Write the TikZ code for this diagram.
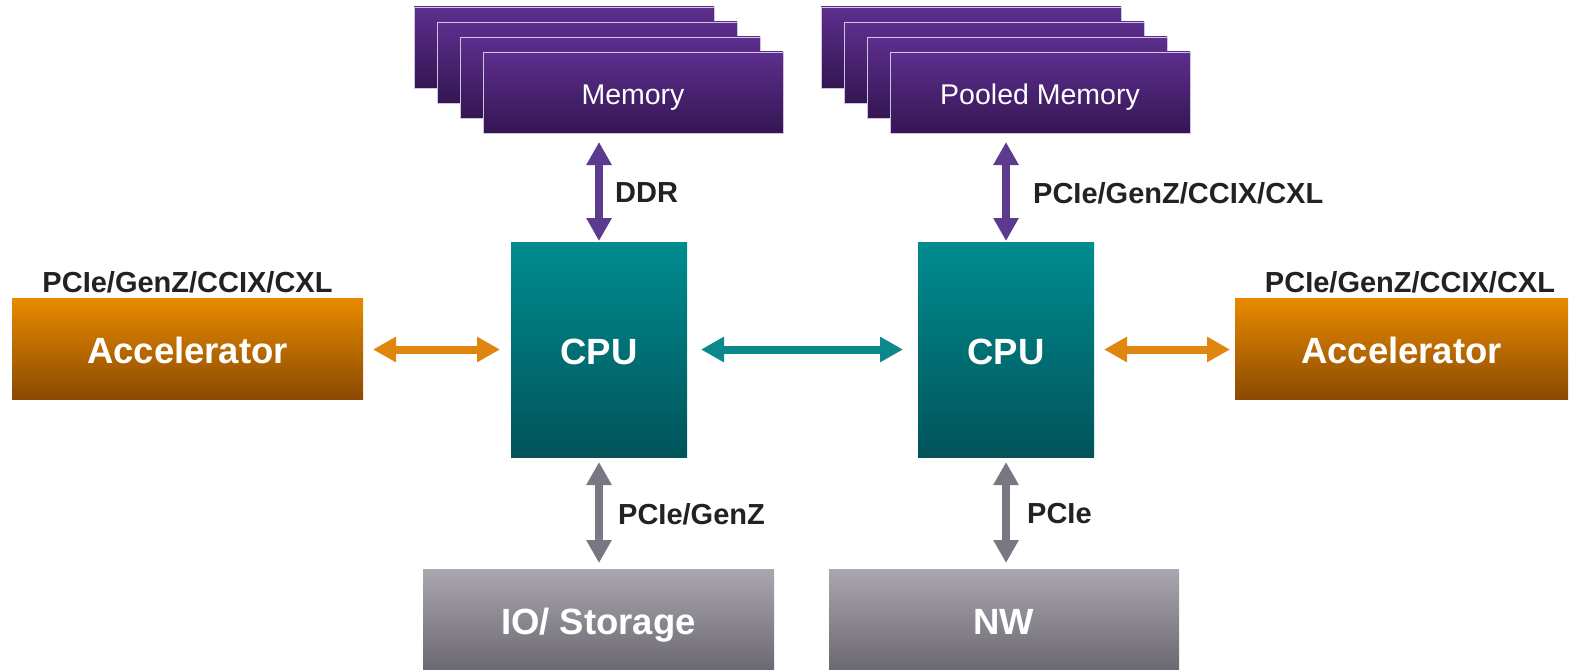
\documentclass[tikz,border=0pt]{standalone}
\usepackage{fontspec}
\setmainfont{Liberation Sans}
\usetikzlibrary{arrows.meta}

\definecolor{memtop}{RGB}{93,46,142}
\definecolor{membot}{RGB}{52,22,82}
\definecolor{memedge}{RGB}{205,195,222}
\definecolor{cputop}{RGB}{0,140,144}
\definecolor{cpubot}{RGB}{0,84,90}
\definecolor{acctop}{RGB}{233,138,0}
\definecolor{accbot}{RGB}{138,74,2}
\definecolor{iotop}{RGB}{170,167,176}
\definecolor{iobot}{RGB}{108,104,114}
\definecolor{arrpurple}{RGB}{92,58,142}
\definecolor{arrteal}{RGB}{12,136,138}
\definecolor{arrorange}{RGB}{224,134,16}
\definecolor{arrgray}{RGB}{122,118,130}
\definecolor{labelgray}{RGB}{34,34,34}

\tikzset{
  box/.style={anchor=north west, inner sep=0pt, outer sep=0pt, text=white},
  bigtext/.style={font=\fontsize{36.5}{42}\selectfont\bfseries,
    text height=29pt, text depth=0pt},
  membox/.style={box, minimum width=300pt, minimum height=81pt,
    top color=memtop, bottom color=membot, draw=memedge, line width=0.9pt,
    font=\fontsize{28.5}{33}\selectfont, text height=23.5pt, text depth=0pt},
  cpubox/.style={box, bigtext, minimum width=176pt, minimum height=215pt,
    top color=cputop, bottom color=cpubot},
  accbox/.style={box, bigtext, minimum height=101pt,
    top color=acctop, bottom color=accbot},
  iobox/.style={box, bigtext, minimum height=101pt,
    top color=iotop, bottom color=iobot},
  lbl/.style={inner sep=0pt, text=labelgray, font=\fontsize{29}{34}\selectfont\bfseries},
  link/.style={line width=8pt,
    {Triangle[width=24pt,length=23pt]}-{Triangle[width=24pt,length=23pt]}},
}

\begin{document}
\begin{tikzpicture}[x=1pt,y=-1pt]
\useasboundingbox (0,0) rectangle (1570,669);

% local memory stack
\node[membox] (lm1) at (414,7) {};
\node[membox] (lm2) at (437,22) {};
\node[membox] (lm3) at (460,37) {};
\node[membox] (lmem) at (483,52) {Memory};

% pooled memory stack
\node[membox] (pm1) at (821,7) {};
\node[membox] (pm2) at (844,22) {};
\node[membox] (pm3) at (867,37) {};
\node[membox] (pmem) at (890,52) {Pooled Memory};

% processors
\node[cpubox] (cpuL) at (511,242) {CPU};
\node[cpubox] (cpuR) at (918,242) {CPU};

% accelerators
\node[accbox, minimum width=351pt] (accL) at (12,298) {Accelerator};
\node[accbox, minimum width=333pt] (accR) at (1235,298) {Accelerator};
\node[lbl] (accLlbl) at (187.5,282) {PCIe/GenZ/CCIX/CXL};
\node[lbl] (accRlbl) at (1410,282) {PCIe/GenZ/CCIX/CXL};

% io and network
\node[iobox, minimum width=351pt] (io) at (423,569) {IO/ Storage};
\node[iobox, minimum width=350pt] (nw) at (829,569) {NW};

% links
\draw[link, arrpurple, shorten <=9pt, shorten >=1pt]
  (cpuL.north |- lmem.south) -- (cpuL.north);
\draw[link, arrpurple, shorten <=9pt, shorten >=1pt]
  (cpuR.north |- pmem.south) -- (cpuR.north);
\draw[link, arrorange, shorten <=10pt, shorten >=11pt]
  (accL.east |- cpuL.center) -- (cpuL.west |- cpuL.center);
\draw[link, arrteal, shorten <=14pt, shorten >=15pt]
  (cpuL.east) -- (cpuR.west);
\draw[link, arrorange, shorten <=10pt, shorten >=5pt]
  (cpuR.east) -- (accR.west |- cpuR.center);
\draw[link, arrgray, shorten <=5pt, shorten >=6pt]
  (cpuL.south) -- (cpuL.south |- io.north);
\draw[link, arrgray, shorten <=5pt, shorten >=6pt]
  (cpuR.south) -- (cpuR.south |- nw.north);

% link labels
\node[lbl, anchor=west] (ddr) at (615,193) {DDR};
\node[lbl, anchor=west] (poollbl) at (1033,193) {PCIe/GenZ/CCIX/CXL};
\node[lbl, anchor=west] (iolbl) at (618,514) {PCIe/GenZ};
\node[lbl, anchor=west] (nwlbl) at (1027,514) {PCIe};
\end{tikzpicture}
\end{document}
